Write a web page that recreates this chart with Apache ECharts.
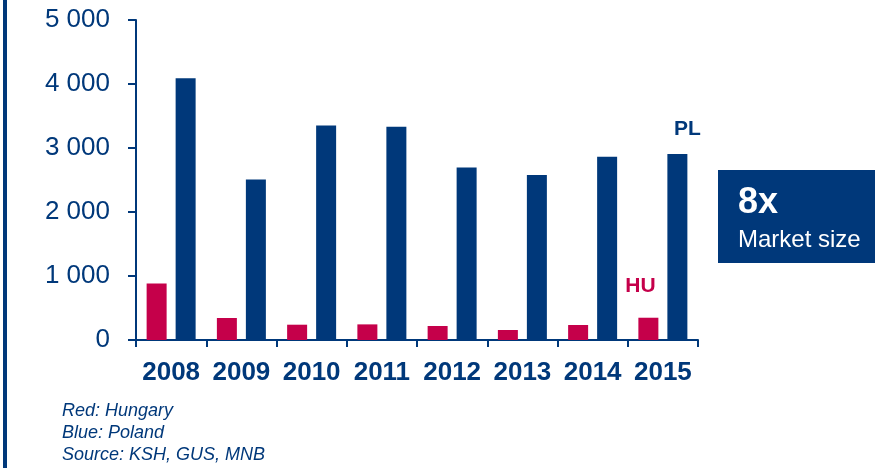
<!DOCTYPE html>
<html>
<head>
<meta charset="utf-8">
<script src="https://cdn.jsdelivr.net/npm/echarts@6/dist/echarts.min.js"></script>
<style>
  html, body { margin: 0; padding: 0; background: #fff; }
  #chart { width: 875px; height: 468px; }
</style>
</head>
<body>
<div id="chart"></div>
<script>
// Mortgage-style market size comparison, Hungary vs Poland
const years = ['2008', '2009', '2010', '2011', '2012', '2013', '2014', '2015'];
const hungary = [884, 344, 239, 244, 219, 156, 234, 348];
const poland = [4088, 2509, 3353, 3333, 2697, 2578, 2864, 2906];
const yTicks = [0, 1000, 2000, 3000, 4000, 5000];
const notes = ['Red: Hungary', 'Blue: Poland', 'Source: KSH, GUS, MNB'];

const NAVY = '#00387a';
const RED = '#c5004a';
const FONT = 'Liberation Sans, Arial, sans-serif';

const chart = echarts.init(document.getElementById('chart'));

// Series label shown only on the last bar of each country
function lastLabel(values, text, color, offset) {
  return values.map((v, i) => i === values.length - 1
    ? { value: v, label: { show: true, position: 'top', formatter: text, color: color,
        fontFamily: FONT, fontWeight: 'bold', fontSize: 21, offset: offset } }
    : v);
}

chart.setOption({
  animation: false,
  grid: { left: 136, right: 177, top: 20, bottom: 128 },
  xAxis: {
    type: 'category',
    data: years,
    axisLine: { lineStyle: { color: NAVY, width: 2 } },
    axisTick: { show: true, length: 7, lineStyle: { color: NAVY, width: 2 } },
    axisLabel: { interval: 0, color: NAVY, fontFamily: FONT, fontWeight: 'bold', fontSize: 26, margin: 20 }
  },
  yAxis: {
    type: 'value',
    min: yTicks[0],
    max: yTicks[yTicks.length - 1],
    interval: 1000,
    splitLine: { show: false },
    axisLine: { show: true, lineStyle: { color: NAVY, width: 2 } },
    axisTick: { show: true, inside: false, length: 8, lineStyle: { color: NAVY, width: 2 } },
    axisLabel: {
      color: NAVY, fontFamily: FONT, fontSize: 26, margin: 26,
      formatter: v => String(v).replace(/\B(?=(\d{3})+(?!\d))/g, ' ')
    }
  },
  series: [
    {
      name: 'HU', type: 'bar', barWidth: 20, barGap: '45%',
      itemStyle: { color: RED },
      data: lastLabel(hungary, 'HU', RED, [-8, -16])
    },
    {
      name: 'PL', type: 'bar', barWidth: 20, barGap: '45%',
      itemStyle: { color: NAVY },
      data: lastLabel(poland, 'PL', NAVY, [10, -9])
    }
  ],
  graphic: [
    // left page rule
    { type: 'rect', shape: { x: 3, y: 0, width: 4, height: 468 }, style: { fill: NAVY } },
    // market size callout
    { type: 'rect', shape: { x: 718, y: 170, width: 157, height: 93 }, style: { fill: NAVY } },
    { type: 'text', left: 738, top: 185,
      style: { text: '8x', fill: '#fff', font: 'bold 36px ' + FONT } },
    { type: 'text', left: 738, top: 228,
      style: { text: 'Market size', fill: '#fff', font: '24px ' + FONT } },
    // footnotes
    ...notes.map((t, i) => ({
      type: 'text', left: 62, top: 402 + i * 22,
      style: { text: t, fill: NAVY, font: 'italic 18px ' + FONT }
    }))
  ]
});
</script>
</body>
</html>
